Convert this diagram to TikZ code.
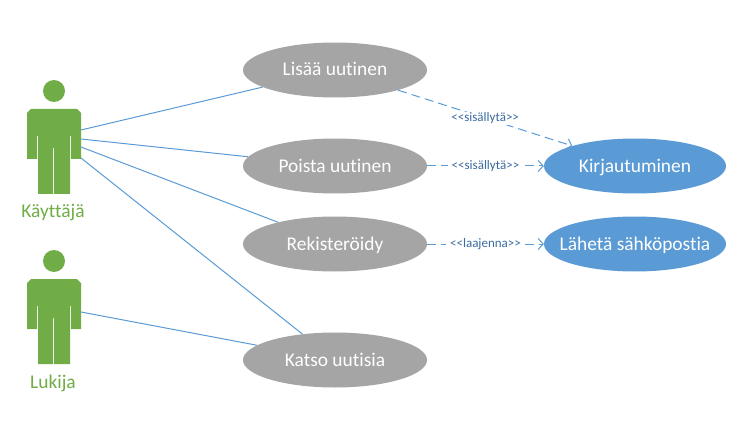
\documentclass[tikz,border=0pt]{standalone}
\usepackage{fontspec}
\setmainfont{Carlito}[Ligatures=NoCommon]
\usetikzlibrary{shapes.geometric,arrows.meta}
\definecolor{figgreen}{HTML}{70AD47}
\definecolor{casegrey}{HTML}{A5A5A5}
\definecolor{caseblue}{HTML}{5B9BD5}
\definecolor{labelblue}{HTML}{3A6A9E}
\tikzset{
  x=1pt,y=-1pt,
  usecase/.style={ellipse,minimum width=184pt,minimum height=55pt,inner xsep=-40pt,inner ysep=-10pt,text height=16pt,text depth=4pt,text=white,font=\fontsize{19.4}{22}\selectfont},
  greycase/.style={usecase,fill=casegrey},
  bluecase/.style={usecase,fill=caseblue,minimum width=182pt},
  assoc/.style={draw=caseblue,line width=1pt},
  dep/.style={draw=caseblue,line width=1pt,dash pattern=on 9pt off 5pt,-{Straight Barb[length=5pt,width=11pt,line width=1pt]}},
  deplabel/.style={fill=white,inner xsep=4pt,inner ysep=1pt,text height=9pt,text depth=2pt,text=labelblue,font=\fontsize{13}{14}\selectfont},
  actorlabel/.style={text=figgreen,text height=15pt,text depth=3pt,font=\fontsize{19.4}{22}\selectfont},
  person/.pic={
    \fill[figgreen] (54,91) circle[radius=11];
    \fill[figgreen] (31,109) -- (77,109) -- (81,113) -- (81,159) -- (71,159) -- (71,136) -- (70,136) -- (70,194) -- (54,194) -- (54,148) -- (53,148) -- (53,194) -- (38,194) -- (38,136) -- (37,136) -- (37,159) -- (27,159) -- (27,113) -- cycle;
  }
}
\newcommand{\llq}{<\kern0pt<}
\newcommand{\rrq}{>\kern0pt>}
\begin{document}
\begin{tikzpicture}
\useasboundingbox (0,0) rectangle (750,433);
\fill[white] (0,0) rectangle (750,433);
\pic at (0,0) {person};
\pic at (0,170) {person};
\node[greycase] (lisaa) at (335,70) {Lisää uutinen};
\node[greycase] (poista) at (335,166) {Poista uutinen};
\node[greycase] (rek) at (335,244) {Rekisteröidy};
\node[greycase] (katso) at (335,360) {Katso uutisia};
\node[bluecase] (kirj) at (635,166) {Kirjautuminen};
\node[bluecase] (laheta) at (635,244) {Lähetä sähköpostia};
\node[actorlabel] (kayttaja) at (53,212) {Käyttäjä};
\node[actorlabel] (lukija) at (53,382) {Lukija};
\coordinate (k1) at (81,130);
\coordinate (k2) at (81,139);
\coordinate (k3) at (81,147);
\coordinate (k4) at (81,158);
\coordinate (l1) at (81,312);
\draw[assoc] (k1) -- (lisaa);
\draw[assoc] (k2) -- (poista);
\draw[assoc] (k3) -- (rek);
\draw[assoc] (k4) -- (katso);
\draw[assoc] (l1) -- (katso);
\draw[dep] (lisaa) -- node[deplabel] {\llq sisällytä\rrq} (kirj);
\draw[dep] (poista) -- node[deplabel] {\llq sisällytä\rrq} (kirj);
\draw[dep] (rek) -- node[deplabel] {\llq laajenna\rrq} (laheta);
\end{tikzpicture}
\end{document}
